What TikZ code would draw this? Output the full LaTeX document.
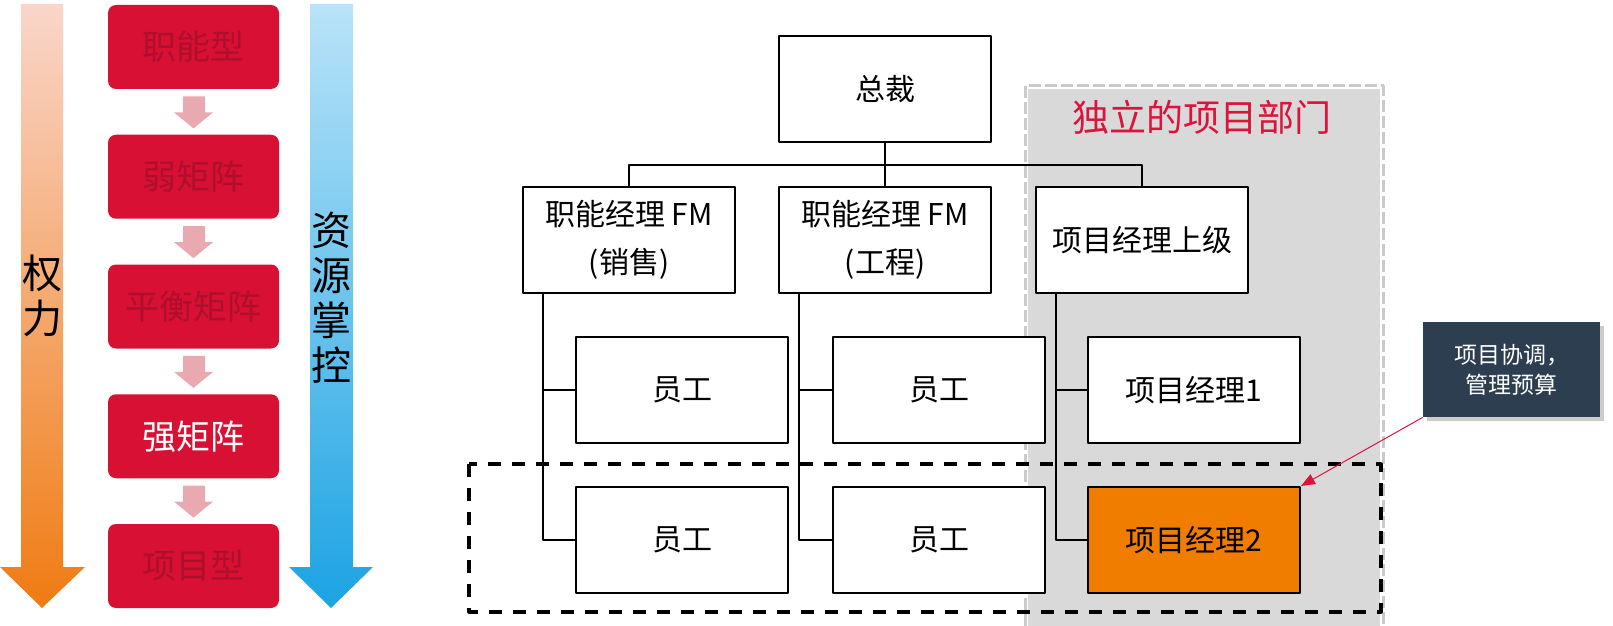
\documentclass[tikz,border=0pt]{standalone}
\usepackage{fontspec}
\setmainfont{Noto Sans CJK SC}
\usetikzlibrary{calc,positioning,shadows,arrows.meta}
\definecolor{hongse}{HTML}{D81034}
\definecolor{anhong}{HTML}{AE0F2D}
\definecolor{fenhong}{HTML}{E8AAB0}
\definecolor{chengse}{HTML}{F07C00}
\definecolor{shenlan}{HTML}{2C3E50}
\definecolor{biaoti}{HTML}{DC143C}
\definecolor{huise}{HTML}{D9D9D9}
\definecolor{chengshang}{HTML}{F9D6CA}
\definecolor{chengxia}{HTML}{EF7B12}
\definecolor{lanshang}{HTML}{B9E3F8}
\definecolor{lanxia}{HTML}{1CA3E3}
\tikzset{
  kuang/.style={draw=black,line width=1pt,fill=white,minimum width=106pt,minimum height=53pt,inner sep=0pt,align=center,font=\fontsize{15}{24}\selectfont},
  lianxian/.style={line width=0.7pt},
  moshi/.style={fill=hongse,rounded corners=4pt,minimum width=85.5pt,minimum height=42pt,inner sep=0pt,font=\fontsize{17}{20}\selectfont},
  jiantou/.style={draw=biaoti,line width=0.5pt,-{Triangle[length=7pt,width=5.5pt]}},
}
\begin{document}
\begin{tikzpicture}[x=0.5pt,y=-0.5pt,line join=round,>=stealth]
	\useasboundingbox (0,0) rectangle (1613,626);
	% left: arrows and matrix types
	\shade[top color=chengshang,bottom color=chengxia] (21,4)--(63,4)--(63,567)--(85,567)--(42,608)--(0,567)--(21,567)--cycle;
	\shade[top color=lanshang,bottom color=lanxia] (310,4)--(353,4)--(353,567)--(373,567)--(331,608)--(289,567)--(310,567)--cycle;
	\node[align=center,font=\fontsize{20}{22.5}\selectfont] (quanli) at (42,296) {权\\力};
	\node[align=center,font=\fontsize{20}{22.5}\selectfont] (ziyuan) at (331,298) {资\\源\\掌\\控};
	\foreach \i/\t/\c in {0/职能型/anhong,1/弱矩阵/anhong,2/平衡矩阵/anhong,3/强矩阵/white,4/项目型/anhong}
		\node[moshi,text=\c] (m\i) at (193.5,47+129.75*\i) {\t};
	\foreach \i in {0,...,3}
		\fill[fenhong] ($(m\i.south)+(-10.5,7)$)--++(22,0)--++(0,16)--++(8,0)--++(-19.5,16)--++(-19.5,-16)--++(9,0)--cycle;
	% right: independent project department
	\fill[huise] (1028,89) rectangle (1380,640);
	\draw[huise!93!black,line width=1.5pt,dash pattern=on 6pt off 2pt] (1025,86) rectangle (1383,640);
	\node[text=biaoti,font=\fontsize{18.5}{20}\selectfont] (bumen) at (1202,117) {独立的项目部门};
	% org chart
	\node[kuang] (zc) at (885,89) {总裁};
	\node[kuang] (fm1) at (629,240) {职能经理 FM\\(销售)};
	\node[kuang] (fm2) at (885,240) {职能经理 FM\\(工程)};
	\node[kuang] (pm0) at (1142,240) {项目经理上级};
	\node[kuang] (yg11) at (682,390) {员工};
	\node[kuang] (yg21) at (939,390) {员工};
	\node[kuang] (pm1) at (1194,390) {项目经理1};
	\node[kuang] (yg12) at (682,540) {员工};
	\node[kuang] (yg22) at (939,540) {员工};
	\node[kuang,fill=chengse] (pm2) at (1194,540) {项目经理2};
	\coordinate (bus) at ($(zc.south)+(0,22)$);
	\draw[lianxian] (zc.south)--(fm2.north);
	\draw[lianxian] (fm1.north) |- (bus) -| (pm0.north);
	\coordinate (t1) at ($(fm1.south west)+(21,0)$);
	\coordinate (t2) at ($(fm2.south west)+(21,0)$);
	\coordinate (t3) at ($(pm0.south west)+(21,0)$);
	\draw[lianxian] (t1) |- (yg11.west) (t1) |- (yg12.west);
	\draw[lianxian] (t2) |- (yg21.west) (t2) |- (yg22.west);
	\draw[lianxian] (t3) |- (pm1.west) (t3) |- (pm2.west);
	\draw[line width=1.6pt,dash pattern=on 6.5pt off 5.5pt] (469,464) rectangle (1381,612);
	% callout
	\node[fill=shenlan,minimum width=88.5pt,minimum height=47.5pt,inner sep=0pt,text=white,align=center,font=\fontsize{11.5}{15}\selectfont,drop shadow={shadow xshift=2pt,shadow yshift=-2pt,opacity=0.4}] (sm) at (1511.5,369.5) {项目协调，\\管理预算};
	\draw[jiantou] (sm.south west)--(pm2.north east);
\end{tikzpicture}
\end{document}
